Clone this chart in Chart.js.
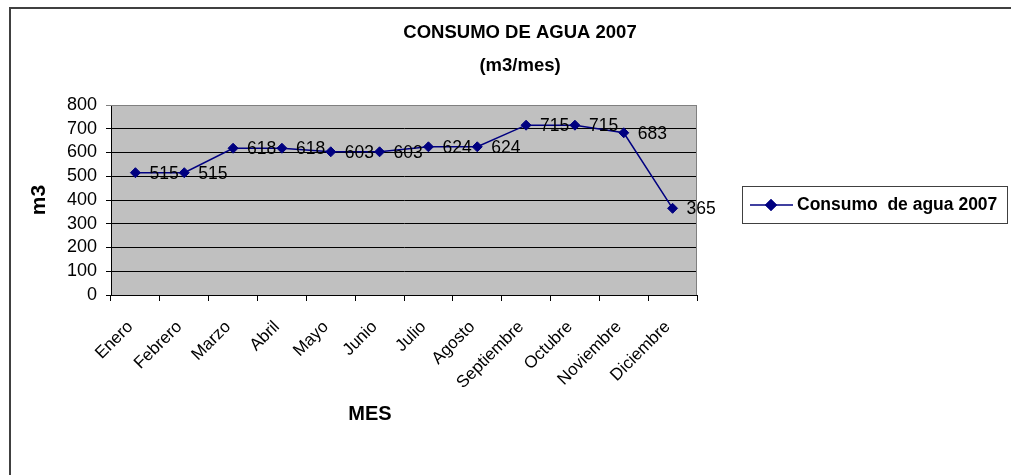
<!DOCTYPE html>
<html><head><meta charset="utf-8">
<script src="https://cdn.jsdelivr.net/npm/chart.js@4/dist/chart.umd.min.js"></script>
<style>html,body{margin:0;padding:0;background:#fff;overflow:hidden}#wrap{width:1011px;height:475px;position:relative}</style>
</head><body><div id="wrap"><canvas id="c" width="1011" height="475"></canvas></div>
<script>
const months = ['Enero','Febrero','Marzo','Abril','Mayo','Junio','Julio','Agosto','Septiembre','Octubre','Noviembre','Diciembre'];
const consumo = [515,515,618,618,603,603,624,624,715,715,683,365];
const yTickValues = [0,100,200,300,400,500,600,700,800];
const seriesName = 'Consumo  de agua 2007';
const titleLines = ['CONSUMO DE AGUA 2007','(m3/mes)'];
const yTitle = 'm3';
const xTitle = 'MES';

const FONT = "'Liberation Sans', Arial, sans-serif";
const NAVY = '#000080';

const bgPlugin = {
  id: 'bg',
  beforeDraw(chart) {
    const {ctx, chartArea: a} = chart;
    ctx.save();
    ctx.fillStyle = '#fff';
    ctx.fillRect(0, 0, chart.width, chart.height);
    ctx.fillStyle = '#c0c0c0';
    ctx.fillRect(a.left, a.top, a.right - a.left, a.bottom - a.top);
    ctx.restore();
  },
  beforeDatasetsDraw(chart) {
    const {ctx, chartArea: a} = chart;
    ctx.save();
    ctx.strokeStyle = '#808080';
    ctx.lineWidth = 1;
    ctx.beginPath();
    ctx.moveTo(a.left, a.top + 0.5);
    ctx.lineTo(Math.round(a.right) - 0.5, a.top + 0.5);
    ctx.lineTo(Math.round(a.right) - 0.5, a.bottom);
    ctx.stroke();
    ctx.restore();
  },
  afterDraw(chart) {
    const {ctx} = chart;
    ctx.save();
    ctx.strokeStyle = '#404040';
    ctx.lineWidth = 2;
    ctx.beginPath();
    ctx.moveTo(10, 475);
    ctx.lineTo(10, 8);
    ctx.lineTo(1011, 8);
    ctx.stroke();
    ctx.fillStyle = '#000';
    ctx.font = "bold 20px " + FONT;
    ctx.textAlign = 'center';
    ctx.textBaseline = 'middle';
    ctx.fillText(xTitle, 370, 414);
    const lx = 742, ly = 186, lw = 265, lh = 37;
    ctx.fillStyle = '#fff';
    ctx.fillRect(lx, ly, lw, lh);
    ctx.strokeStyle = '#404040';
    ctx.lineWidth = 1;
    ctx.strokeRect(lx + 0.5, ly + 0.5, lw, lh);
    const cy = ly + 19;
    ctx.strokeStyle = NAVY;
    ctx.lineWidth = 1.5;
    ctx.beginPath();
    ctx.moveTo(750, cy);
    ctx.lineTo(793, cy);
    ctx.stroke();
    ctx.fillStyle = NAVY;
    Chart.helpers.drawPoint(ctx, {pointStyle: 'rectRot', radius: 5, borderWidth: 1}, 771, cy);
    ctx.fill();
    ctx.stroke();
    ctx.fillStyle = '#000';
    ctx.font = "bold 17.5px " + FONT;
    ctx.textAlign = 'left';
    ctx.textBaseline = 'middle';
    ctx.fillText(chart.data.datasets[0].label, 797, cy);
    ctx.restore();
  },
  afterDatasetsDraw(chart) {
    const {ctx} = chart;
    const meta = chart.getDatasetMeta(0);
    const vals = chart.data.datasets[0].data;
    ctx.save();
    ctx.fillStyle = '#000';
    ctx.font = "17.5px " + FONT;
    ctx.textAlign = 'left';
    ctx.textBaseline = 'middle';
    meta.data.forEach((p, i) => {
      ctx.fillText(String(vals[i]), p.x + 14, p.y + 1);
    });
    ctx.restore();
  }
};

new Chart(document.getElementById('c'), {
  type: 'line',
  data: {
    labels: months,
    datasets: [{
      label: seriesName,
      data: consumo,
      borderColor: NAVY,
      backgroundColor: NAVY,
      borderWidth: 1.5,
      pointStyle: 'rectRot',
      pointRadius: 5,
      pointBorderWidth: 1,
      pointBackgroundColor: NAVY,
      pointBorderColor: NAVY,
      tension: 0,
      fill: false
    }]
  },
  options: {
    responsive: false,
    animation: false,
    devicePixelRatio: 1,
    layout: {padding: {left: 29, right: 0, top: 0, bottom: 0}},
    plugins: {
      legend: {display: false},
      tooltip: {enabled: false},
      title: {
        display: true,
        text: titleLines,
        color: '#000',
        font: {family: FONT, size: 18.5, weight: 'bold', lineHeight: 33 / 18.5},
        padding: {top: 16.5, bottom: 22.5}
      }
    },
    scales: {
      x: {
        type: 'category',
        offset: true,
        grid: {display: true, drawOnChartArea: false, color: '#000', tickLength: 6, offset: true},
        border: {display: true, color: '#000', width: 1},
        ticks: {
          color: '#000',
          font: {family: FONT, size: 17},
          maxRotation: 45,
          minRotation: 45,
          padding: 16,
          labelOffset: -5,
          autoSkip: false
        },
        afterFit(s) { s.height = 180; }
      },
      y: {
        type: 'linear',
        min: 0,
        max: 800,
        afterBuildTicks(s) { s.ticks = yTickValues.map(v => ({value: v})); },
        grid: {
          color: ctx => (ctx.tick && ctx.tick.value === 800) ? '#808080' : '#000',
          lineWidth: 1,
          tickLength: 5,
          drawOnChartArea: true
        },
        border: {display: true, color: '#000', width: 1},
        ticks: {color: '#000', font: {family: FONT, size: 18, lineHeight: 1}, padding: 9, autoSkip: false, stepSize: 100},
        title: {
          display: true,
          text: yTitle,
          color: '#000',
          font: {family: FONT, size: 21, weight: 'bold', lineHeight: 1},
          padding: {top: 0, bottom: 0}
        },
        afterFit(s) { s.width = 82; }
      },
      y2: {
        type: 'linear',
        position: 'right',
        display: true,
        grid: {display: false},
        border: {display: false},
        ticks: {display: false},
        afterFit(s) { s.width = 314; }
      }
    }
  },
  plugins: [bgPlugin]
});
</script>
</body></html>
